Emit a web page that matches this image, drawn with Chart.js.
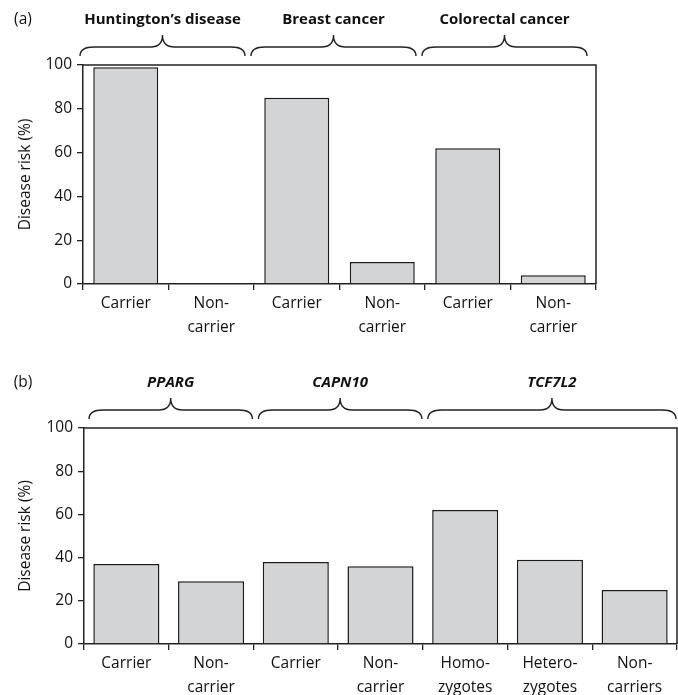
<!DOCTYPE html>
<html>
<head>
<meta charset="utf-8">
<script src="https://cdn.jsdelivr.net/npm/chart.js@4"></script>
<style>
  body { margin: 0; background: #fff; }
  .panel { position: absolute; left: 0; width: 678px; }
</style>
</head>
<body>
<div class="panel" style="top:0;height:345px"><canvas id="chartA"></canvas></div>
<div class="panel" style="top:360px;height:335px"><canvas id="chartB"></canvas></div>
<script>
// panel (a): single-gene disorders
const categoriesA = ['Carrier', ['Non-', 'carrier'], 'Carrier', ['Non-', 'carrier'], 'Carrier', ['Non-', 'carrier']];
const riskA = [99, 0, 85, 10, 62, 4];
const groupsA = ['Huntington\u2019s disease', 'Breast cancer', 'Colorectal cancer'];
const groupSizesA = [2, 2, 2];

// panel (b): type 2 diabetes genes
const categoriesB = ['Carrier', ['Non-', 'carrier'], 'Carrier', ['Non-', 'carrier'], ['Homo-', 'zygotes'], ['Hetero-', 'zygotes'], ['Non-', 'carriers']];
const riskB = [37, 29, 38, 36, 62, 39, 25];
const groupsB = ['PPARG', 'CAPN10', 'TCF7L2'];
const groupSizesB = [2, 2, 3];

const yTicks = [0, 20, 40, 60, 80, 100];

const FONT = "'Open Sans', sans-serif";
const INK = '#222';
const TEXT = '#111';

// braces + group names above the plot, plus top/right frame
const bracePlugin = {
  id: 'braces',
  afterDraw(chart, args, opts) {
    const ctx = chart.ctx;
    const area = chart.chartArea;
    const x = chart.scales.x;
    const step = x.width / chart.data.labels.length;

    ctx.save();
    ctx.strokeStyle = INK;
    ctx.lineWidth = 1.5;
    ctx.beginPath();
    ctx.moveTo(area.left, area.top);
    ctx.lineTo(area.right, area.top);
    ctx.lineTo(area.right, area.bottom);
    ctx.stroke();

    // panel letter
    ctx.fillStyle = TEXT;
    ctx.font = '15.5px ' + FONT;
    ctx.textAlign = 'center';
    ctx.textBaseline = 'middle';
    ctx.fillText(opts.panel, 23, area.top - 45);

    ctx.lineWidth = 1.4;
    const yEnd = area.top - 9, yMid = area.top - 18, yPeak = area.top - 30;
    let start = 0;
    opts.groups.forEach((name, i) => {
      const n = opts.sizes[i];
      const x0 = x.getPixelForValue(start) - step / 2 + opts.inset[0];
      const x1 = x.getPixelForValue(start + n - 1) + step / 2 - opts.inset[1];
      const xc = (x0 + x1) / 2;
      ctx.beginPath();
      ctx.moveTo(x0, yEnd);
      ctx.quadraticCurveTo(x0, yMid, x0 + 14, yMid);
      ctx.lineTo(xc - 12, yMid);
      ctx.quadraticCurveTo(xc, yMid, xc, yPeak);
      ctx.quadraticCurveTo(xc, yMid, xc + 12, yMid);
      ctx.lineTo(x1 - 14, yMid);
      ctx.quadraticCurveTo(x1, yMid, x1, yEnd);
      ctx.stroke();

      ctx.font = (opts.italic ? 'italic ' : '') + 'bold 15px ' + FONT;
      ctx.fillText(name, xc, area.top - 45);
      start += n;
    });
    ctx.restore();
  }
};

function makeChart(id, panel, labels, values, groups, sizes, box, italic) {
  return new Chart(document.getElementById(id), {
    type: 'bar',
    data: {
      labels: labels,
      datasets: [{
        data: values,
        backgroundColor: '#d3d4d6',
        borderColor: '#1a1a1a',
        borderWidth: 1.5,
        barPercentage: box.bar,
        categoryPercentage: 1
      }]
    },
    options: {
      responsive: true,
      maintainAspectRatio: false,
      animation: false,
      layout: { padding: { top: box.top, right: 678 - box.right, left: 0, bottom: 0 } },
      plugins: {
        legend: { display: false },
        tooltip: { enabled: false },
        braces: { panel: panel, groups: groups, sizes: sizes, inset: box.inset, italic: italic }
      },
      scales: {
        x: {
          afterFit: s => { s.height = box.height - box.bottom; },
          grid: { offset: true, drawOnChartArea: false, drawTicks: true, tickLength: 6, color: INK, lineWidth: 1.3 },
          border: { display: true, color: INK, width: 1.5 },
          ticks: { color: TEXT, padding: 2, maxRotation: 0, autoSkip: false, font: { family: FONT, size: 15.5, lineHeight: 1.55 } }
        },
        y: {
          min: 0,
          max: 100,
          afterFit: s => { s.width = box.left; },
          afterBuildTicks: s => { s.ticks = yTicks.map(v => ({ value: v })); },
          grid: { drawOnChartArea: false, drawTicks: true, tickLength: 6, color: INK, lineWidth: 1.3 },
          border: { display: true, color: INK, width: 1.5 },
          ticks: { color: TEXT, padding: 5, font: { family: FONT, size: 15.5 } },
          title: { display: true, text: 'Disease risk (%)', color: TEXT, padding: { top: 16, bottom: 0 }, font: { family: FONT, size: 15.5 } }
        }
      }
    },
    plugins: [bracePlugin]
  });
}

makeChart('chartA', '(a)', categoriesA, riskA, groupsA, groupSizesA,
  { left: 83, right: 596, top: 65, bottom: 284, height: 345, bar: 0.76, inset: [-3, 9] }, false);
makeChart('chartB', '(b)', categoriesB, riskB, groupsB, groupSizesB,
  { left: 84, right: 677, top: 68, bottom: 284, height: 335, bar: 0.78, inset: [5, 1] }, true);
</script>
</body>
</html>
